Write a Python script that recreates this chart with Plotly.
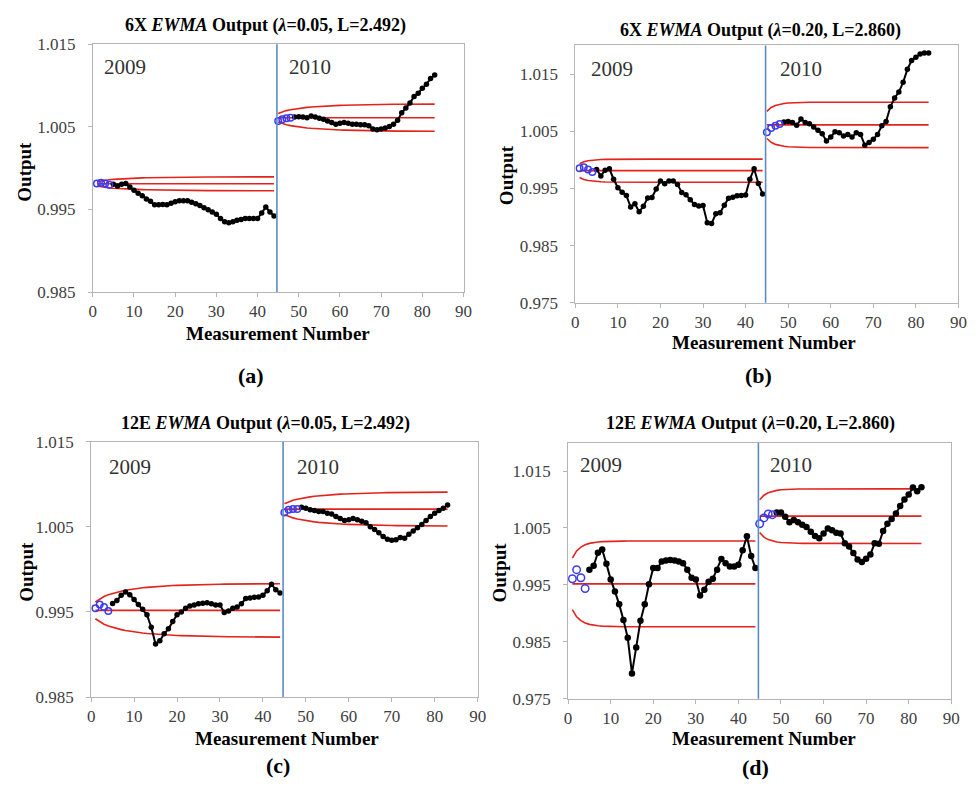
import math
import plotly.graph_objects as go

# ---------------- data ----------------
x_blue_2009 = [1, 2, 3, 4]
x_black_2009 = list(range(5, 45))
x_blue_2010 = [45, 46, 47, 48]
x_black_2010 = list(range(49, 84))
x_lim_2009 = list(range(1, 45))
x_lim_2010 = list(range(45, 84))

# (a) 6X, lambda=0.05
a_blue_2009 = [0.99815, 0.99823, 0.99815, 0.99799]
a_black_2009 = [0.99803, 0.99783, 0.99803, 0.99815, 0.99772, 0.99732, 0.99697, 0.99665,
                0.99626, 0.99598, 0.99555, 0.99555, 0.99559, 0.99555, 0.99575, 0.99594,
                0.99606, 0.99606, 0.99606, 0.99587, 0.99567, 0.99547, 0.99520, 0.99496,
                0.99469, 0.99441, 0.99390, 0.99350, 0.99339, 0.99350, 0.99370, 0.99378,
                0.99390, 0.99390, 0.99390, 0.99390, 0.99457, 0.99528, 0.99469, 0.99421]
a_blue_2010 = [1.00571, 1.00591, 1.00602, 1.00610]
a_black_2010 = [1.00618, 1.00622, 1.00618, 1.00610, 1.00630, 1.00618, 1.00602, 1.00591,
                1.00571, 1.00551, 1.00531, 1.00543, 1.00551, 1.00543, 1.00531, 1.00531,
                1.00524, 1.00524, 1.00512, 1.00472, 1.00465, 1.00472, 1.00484, 1.00504,
                1.00531, 1.00579, 1.00669, 1.00728, 1.00787, 1.00866, 1.00906, 1.00965,
                1.01016, 1.01083, 1.01126]

# (b) 6X, lambda=0.20
b_blue_2009 = [0.99853, 0.99870, 0.99830, 0.99785]
b_black_2009 = [0.99830, 0.99717, 0.99819, 0.99842, 0.99660, 0.99511, 0.99432, 0.99375,
                0.99175, 0.99232, 0.99090, 0.99187, 0.99330, 0.99340, 0.99490, 0.99630,
                0.99580, 0.99630, 0.99630, 0.99570, 0.99430, 0.99390, 0.99300, 0.99220,
                0.99190, 0.99200, 0.98900, 0.98885, 0.99056, 0.99073, 0.99204, 0.99329,
                0.99346, 0.99369, 0.99375, 0.99386, 0.99660, 0.99842, 0.99585, 0.99403]
b_blue_2010 = [1.00483, 1.00557, 1.00597, 1.00625]
b_black_2010 = [1.00660, 1.00671, 1.00654, 1.00603, 1.00711, 1.00654, 1.00631, 1.00574,
                1.00517, 1.00454, 1.00329, 1.00397, 1.00489, 1.00472, 1.00415, 1.00443,
                1.00397, 1.00472, 1.00443, 1.00255, 1.00301, 1.00358, 1.00443, 1.00597,
                1.00671, 1.00927, 1.01081, 1.01184, 1.01354, 1.01581, 1.01736, 1.01793,
                1.01850, 1.01868, 1.01868]

# (c) 12E, lambda=0.05
c_blue_2009 = [0.99542, 0.99588, 0.99557, 0.99511]
c_black_2009 = [0.99599, 0.99634, 0.99695, 0.99733, 0.99703, 0.99645, 0.99588, 0.99531,
                0.99466, 0.99320, 0.99122, 0.99160, 0.99244, 0.99301, 0.99389, 0.99466,
                0.99500, 0.99542, 0.99569, 0.99580, 0.99596, 0.99603, 0.99607, 0.99596,
                0.99580, 0.99580, 0.99492, 0.99511, 0.99542, 0.99557, 0.99596, 0.99657,
                0.99664, 0.99672, 0.99676, 0.99695, 0.99748, 0.99825, 0.99760, 0.99722]
c_blue_2010 = [1.00668, 1.00699, 1.00710, 1.00710]
c_black_2010 = [1.00729, 1.00718, 1.00699, 1.00691, 1.00680, 1.00680, 1.00660, 1.00649,
                1.00622, 1.00596, 1.00573, 1.00584, 1.00596, 1.00584, 1.00565, 1.00546,
                1.00500, 1.00469, 1.00431, 1.00385, 1.00355, 1.00343, 1.00347, 1.00374,
                1.00366, 1.00412, 1.00450, 1.00489, 1.00527, 1.00573, 1.00622, 1.00660,
                1.00691, 1.00718, 1.00756]

# (d) 12E, lambda=0.20
d_blue_2009 = [0.99608, 0.99768, 0.99625, 0.99437]
d_black_2009 = [0.99768, 0.99836, 1.00064, 1.00121, 0.99870, 0.99597, 0.99386, 0.99158,
                0.98885, 0.98571, 0.97944, 0.98400, 0.98868, 0.99158, 0.99511, 0.99796,
                0.99796, 0.99910, 0.99927, 0.99939, 0.99927, 0.99910, 0.99882, 0.99768,
                0.99625, 0.99597, 0.99312, 0.99415, 0.99557, 0.99608, 0.99768, 0.99956,
                0.99882, 0.99825, 0.99825, 0.99853, 1.00110, 1.00355, 1.00007, 0.99796]
d_blue_2010 = [1.00574, 1.00677, 1.00745, 1.00734]
d_black_2010 = [1.00774, 1.00774, 1.00699, 1.00603, 1.00642, 1.00603, 1.00557, 1.00517,
                1.00432, 1.00358, 1.00318, 1.00403, 1.00489, 1.00460, 1.00415, 1.00403,
                1.00232, 1.00175, 1.00061, 0.99947, 0.99902, 0.99959, 1.00033, 1.00232,
                1.00221, 1.00449, 1.00574, 1.00660, 1.00756, 1.00887, 1.01001, 1.01087,
                1.01212, 1.01144, 1.01218]

# control chart parameters (lambda, L from titles; centre and sigma)
lam_low, L_low = 0.05, 2.492
lam_high, L_high = 0.20, 2.860
center_6x = [0.99810, 1.00610]
sigma_6x = [0.00212, 0.00416]
center_12e = [0.99518, 1.00708]
sigma_12e = [0.00790, 0.00503]

titles = ["<b>6X <i>EWMA</i> Output (<i>λ</i>=0.05, L=2.492)</b>",
          "<b>6X <i>EWMA</i> Output (<i>λ</i>=0.20, L=2.860)</b>",
          "<b>12E <i>EWMA</i> Output (<i>λ</i>=0.05, L=2.492)</b>",
          "<b>12E <i>EWMA</i> Output (<i>λ</i>=0.20, L=2.860)</b>"]
sub_labels = ["(a)", "(b)", "(c)", "(d)"]
y_ticks_narrow = [0.985, 0.995, 1.005, 1.015]
y_ticks_wide = [0.975, 0.985, 0.995, 1.005, 1.015]
year_labels = ["2009", "2010"]
x_ticks = [0, 10, 20, 30, 40, 50, 60, 70, 80, 90]


def ewma_limits(center, sigma, lam, L, n):
    up, lo, cl = [], [], []
    for i in range(1, n + 1):
        w = L * sigma * math.sqrt(lam / (2 - lam) * (1 - (1 - lam) ** (2 * i)))
        up.append(center + w)
        lo.append(center - w)
        cl.append(center)
    return up, cl, lo


W, H = 979, 791
FONT = "Liberation Serif, Times New Roman, DejaVu Serif, serif"
RED = "#e3231c"
BLUE_LINE = "#5b8cc8"
BLUE_MK = "#3a3af0"

panels = [
    dict(blue09=a_blue_2009, black09=a_black_2009, blue10=a_blue_2010, black10=a_black_2010,
         center=center_6x, sigma=sigma_6x, lam=lam_low, L=L_low, yr=[0.985, 1.015],
         yt=y_ticks_narrow, px=(90, 465.7), py=(36, 290), year_y=1.0122, mk=5.5),
    dict(blue09=b_blue_2009, black09=b_black_2009, blue10=b_blue_2010, black10=b_black_2010,
         center=center_6x, sigma=sigma_6x, lam=lam_high, L=L_high, yr=[0.975, 1.02],
         yt=y_ticks_wide, px=(579, 967.3), py=(37.3, 301), year_y=1.0158, mk=5.5),
    dict(blue09=c_blue_2009, black09=c_black_2009, blue10=c_blue_2010, black10=c_black_2010,
         center=center_12e, sigma=sigma_12e, lam=lam_low, L=L_low, yr=[0.985, 1.015],
         yt=y_ticks_narrow, px=(88.3, 480), py=(443.3, 705), year_y=1.0120, mk=5.5),
    dict(blue09=d_blue_2009, black09=d_black_2009, blue10=d_blue_2010, black10=d_black_2010,
         center=center_12e, sigma=sigma_12e, lam=lam_high, L=L_high, yr=[0.975, 1.02],
         yt=y_ticks_wide, px=(571.7, 960), py=(444.3, 706.7), year_y=1.0161, mk=6.5),
]

title_pos = [(265, 17), (767, 22), (265, 425), (757, 425)]
xtitle_pos = [(278, 332), (770, 342), (287, 747), (770, 747)]
ytitle_pos = [(21, 167), (510, 170), (22, 577), (502, 577)]
sub_pos = [(250, 376), (765, 376), (278, 775), (762, 777)]
year_x = [(7.9, 52.7), (8.5, 52.9), (9.1, 52.8), (7.7, 52.4)]

fig = go.Figure()
layout = dict(width=W, height=H, margin=dict(l=0, r=0, t=0, b=0),
              paper_bgcolor="white", plot_bgcolor="white", showlegend=False,
              annotations=[], shapes=[])

for k, p in enumerate(panels):
    s = "" if k == 0 else str(k + 1)
    xa, ya = "x" + s, "y" + s
    # control limits
    for yi, (xs, cen, sig) in enumerate([(x_lim_2009, p["center"][0], p["sigma"][0]),
                                         (x_lim_2010, p["center"][1], p["sigma"][1])]):
        up, cl, lo = ewma_limits(cen, sig, p["lam"], p["L"], len(xs))
        for arr in (up, cl, lo):
            fig.add_trace(go.Scatter(x=xs, y=arr, mode="lines", xaxis=xa, yaxis=ya,
                                     line=dict(color=RED, width=1.6), hoverinfo="skip"))
    # data
    for xs, ys in [(x_black_2009, p["black09"]), (x_black_2010, p["black10"])]:
        fig.add_trace(go.Scatter(x=xs, y=ys, mode="lines+markers", xaxis=xa, yaxis=ya,
                                 line=dict(color="black", width=2),
                                 marker=dict(color="black", size=p["mk"])))
    for xs, ys in [(x_blue_2009, p["blue09"]), (x_blue_2010, p["blue10"])]:
        fig.add_trace(go.Scatter(x=xs, y=ys, mode="markers", xaxis=xa, yaxis=ya,
                                 marker=dict(symbol="circle-open", color=BLUE_MK, size=p["mk"] + 1,
                                             line=dict(width=1.5, color=BLUE_MK))))
    # year separator
    layout["shapes"].append(dict(type="line", xref=xa, yref=ya + " domain", x0=44.7, x1=44.7,
                                 y0=0, y1=1, line=dict(color=BLUE_LINE, width=1.6)))
    axis_common = dict(showline=True, linecolor="#b5b5b5", linewidth=1, mirror=True,
                       showgrid=False, zeroline=False, ticks="outside", ticklen=4,
                       tickcolor="#b5b5b5",
                       tickfont=dict(family=FONT, size=17, color="#404040"))
    layout["xaxis" + s] = dict(axis_common, domain=[p["px"][0] / W, p["px"][1] / W],
                               range=[0, 90], tickvals=x_ticks, anchor=ya)
    layout["yaxis" + s] = dict(axis_common, domain=[1 - p["py"][1] / H, 1 - p["py"][0] / H],
                               range=p["yr"], tickvals=p["yt"], tickformat=".3f", anchor=xa,
                               ticklabelstandoff=9)
    # year labels
    for yl, xv in zip(year_labels, year_x[k]):
        layout["annotations"].append(dict(text=yl, x=xv, y=p["year_y"], xref=xa, yref=ya,
                                          showarrow=False, xanchor="center", yanchor="middle",
                                          font=dict(family=FONT, size=21, color="#333333")))

    def paper_ann(text, pos, size, angle=0):
        return dict(text=text, x=pos[0] / W, y=1 - pos[1] / H, xref="paper", yref="paper",
                    showarrow=False, xanchor="center", yanchor="middle", textangle=angle,
                    font=dict(family=FONT, size=size, color="black"))

    layout["annotations"].append(paper_ann(titles[k], title_pos[k], 18))
    layout["annotations"].append(paper_ann("<b>Measurement Number</b>", xtitle_pos[k], 19))
    layout["annotations"].append(paper_ann("<b>Output</b>", ytitle_pos[k], 19, -90))
    layout["annotations"].append(paper_ann("<b>" + sub_labels[k] + "</b>", sub_pos[k], 22))

fig.update_layout(**layout)
fig.write_html("out.html")
